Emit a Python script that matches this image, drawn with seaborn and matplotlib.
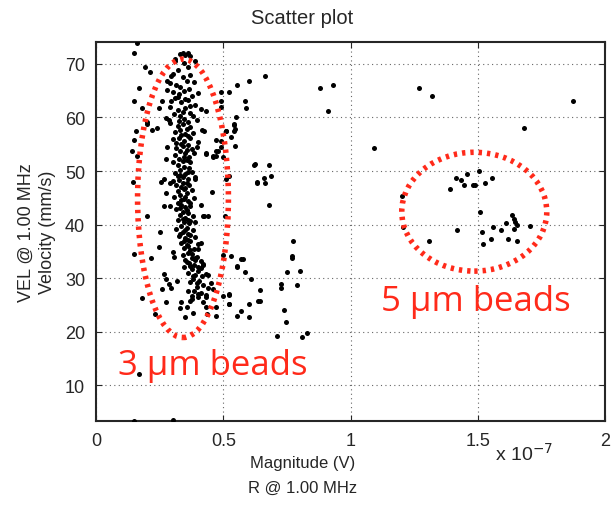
import pandas as pd
import matplotlib.pyplot as plt
import seaborn as sns
from matplotlib.patches import Ellipse

# Magnitude in units of 1e-7 V, velocity in mm/s
# dense column of the 3 um beads
col_x = [0.33, 0.35, 0.31, 0.345, 0.36, 0.32, 0.30, 0.34, 0.37, 0.355,
         0.29, 0.315, 0.33, 0.365, 0.385, 0.30, 0.325, 0.345, 0.375, 0.40, 0.28,
         0.31, 0.335, 0.36, 0.39, 0.29, 0.32, 0.35, 0.37, 0.41, 0.33, 0.305, 0.345, 0.38, 0.36, 0.395,
         0.29, 0.32, 0.34, 0.355, 0.37, 0.31, 0.335, 0.36, 0.38, 0.325, 0.345, 0.30,
         0.315, 0.34, 0.36, 0.375, 0.33, 0.35, 0.31, 0.365, 0.385, 0.325, 0.34, 0.355, 0.30,
         0.32, 0.345, 0.365, 0.33, 0.31, 0.35, 0.375, 0.34, 0.36, 0.325, 0.39, 0.30, 0.355,
         0.315, 0.335, 0.365, 0.345, 0.32, 0.355, 0.375, 0.33, 0.305, 0.345, 0.36, 0.385, 0.32,
         0.335, 0.35, 0.37, 0.315, 0.34, 0.36, 0.33, 0.35, 0.38, 0.32, 0.345, 0.365, 0.335,
         0.355, 0.315, 0.38, 0.34, 0.36, 0.325, 0.35, 0.39, 0.37, 0.335, 0.355, 0.40,
         0.345, 0.37, 0.385, 0.36, 0.34, 0.395, 0.375, 0.35, 0.41, 0.365, 0.385, 0.42, 0.345,
         0.375, 0.40, 0.36, 0.39, 0.415, 0.43, 0.38, 0.405, 0.37, 0.42, 0.395, 0.44,
         0.385, 0.41, 0.43, 0.40, 0.375, 0.42,
         0.34, 0.325, 0.37, 0.335, 0.355, 0.345, 0.33, 0.36, 0.34, 0.35,
         0.335, 0.355, 0.34, 0.37, 0.35, 0.36, 0.375, 0.39, 0.40, 0.38,
         0.395, 0.32, 0.35, 0.37, 0.33, 0.35, 0.315, 0.37, 0.32, 0.35,
         0.37, 0.33, 0.36, 0.33, 0.37, 0.345, 0.36, 0.355, 0.37, 0.41]
col_y = [71.8, 71.7, 70.6, 70.2, 69.4, 68.9, 68.1, 67.6, 67.9, 66.9,
         66.4, 66.1, 65.7, 65.4, 66.6, 64.8, 64.3, 64.9, 64.0, 64.6, 65.2,
         63.6, 62.9, 63.2, 62.4, 61.9, 61.4, 61.8, 60.9, 61.6, 60.3, 60.6, 59.8, 60.2, 59.2, 59.6,
         58.9, 58.4, 58.7, 57.9, 58.2, 57.3, 56.8, 56.5, 57.1, 56.1, 55.7, 55.9,
         55.2, 54.6, 54.9, 54.1, 53.8, 53.3, 53.0, 52.7, 53.4, 52.3, 51.9, 52.1, 51.6,
         51.2, 50.8, 50.5, 50.1, 49.7, 49.4, 49.9, 48.9, 48.6, 48.3, 48.8, 48.1, 47.8,
         47.4, 47.1, 47.3, 46.6, 46.2, 45.9, 46.4, 45.5, 45.1, 44.8, 44.4, 44.9, 44.1,
         43.6, 43.2, 43.5, 42.9, 42.4, 42.1, 41.7, 41.3, 41.6, 40.9, 40.5, 40.2, 39.8,
         39.4, 39.1, 39.0, 38.6, 38.2, 37.8, 37.4, 37.7, 36.9, 36.5, 36.1, 36.4,
         35.6, 35.2, 35.5, 34.7, 34.3, 34.0, 33.8, 33.4, 33.1, 32.8, 32.4, 32.7, 32.1,
         31.7, 31.4, 31.0, 30.6, 30.3, 30.8, 29.9, 29.5, 29.2, 28.8, 28.4, 28.1,
         27.6, 27.2, 26.9, 26.4, 26.0, 25.6,
         61.1, 59.4, 56.2, 55.0, 53.9, 52.6, 49.2, 49.9, 47.7, 46.9,
         44.5, 42.8, 41.0, 40.6, 38.9, 37.1, 34.5, 33.4, 32.0, 30.3,
         29.1, 63.9, 63.5, 62.1, 57.6, 57.0, 54.3, 51.6, 49.0, 45.2,
         44.0, 43.0, 40.9, 38.3, 38.0, 37.0, 35.9, 33.0, 32.2, 31.9]

# scattered points around the 3 um cluster
spread_x = [0.16, 0.15, 0.31, 0.34, 0.36, 0.19, 0.21, 0.17, 0.15, 0.18, 0.20, 0.155,
            0.15, 0.14, 0.16, 0.145, 0.49, 0.52, 0.555, 0.60, 0.585, 0.59, 0.49, 0.49,
            0.55, 0.54, 0.545, 0.51, 0.53, 0.545, 0.49, 0.49, 0.47, 0.625, 0.63, 0.455,
            0.665, 0.88, 0.93, 0.91, 0.54, 0.54, 0.51, 0.47, 0.43, 0.46, 0.47, 0.50,
            0.62, 0.68, 0.52, 0.66, 0.665, 0.685, 0.63, 0.68, 0.41, 0.42, 0.44, 0.505,
            0.775, 0.77, 0.77, 0.75, 0.80, 0.79, 0.725, 0.725, 0.645, 0.635, 0.645, 0.60,
            0.61, 0.585, 0.57, 0.578, 0.555, 0.53, 0.50, 0.52, 0.52, 0.57, 0.555, 0.60,
            0.74, 0.745, 0.71, 0.81, 0.83, 0.295, 0.28, 0.26, 0.245, 0.295, 0.43, 0.20,
            0.22, 0.24, 0.275, 0.287, 0.28, 0.275, 0.43, 0.46, 0.48, 0.40, 0.395, 0.415,
            0.425, 0.255, 0.267, 0.29, 0.39, 0.51, 0.275, 0.265, 0.29, 0.20, 0.425, 0.25,
            0.245, 0.215, 0.148, 0.30, 0.305, 0.39, 0.18, 0.23, 0.275, 0.333, 0.357, 0.37,
            0.376, 0.40, 0.43, 0.434, 0.47, 0.47, 0.50, 0.52, 0.523, 0.555, 0.26, 0.295,
            0.267, 0.275, 0.287, 0.318, 0.17, 0.15, 0.30, 0.33, 0.38, 0.35, 0.36, 0.44,
            0.45, 0.42, 0.40, 0.41, 0.39, 0.46, 0.43, 0.37, 0.39]
spread_y = [73.9, 72.0, 71.0, 72.0, 72.0, 69.4, 68.5, 65.5, 63.0, 61.8, 58.8, 57.5,
            55.8, 53.7, 52.8, 48.0, 64.8, 64.8, 66.0, 66.8, 63.0, 61.8, 63.0, 62.0,
            60.0, 58.8, 57.8, 57.5, 56.4, 54.7, 55.6, 54.5, 52.8, 51.3, 48.0, 46.0,
            67.8, 65.5, 66.0, 61.2, 58.6, 57.5, 57.5, 55.8, 53.2, 52.6, 53.7, 52.6,
            51.1, 51.1, 49.0, 48.7, 47.8, 49.0, 47.8, 43.6, 43.6, 41.6, 41.6, 41.6,
            36.9, 34.1, 33.7, 31.1, 31.3, 28.7, 28.9, 28.1, 27.8, 25.7, 25.7, 25.1,
            29.8, 31.1, 33.6, 33.6, 32.2, 34.1, 34.3, 27.0, 25.1, 23.8, 23.0, 22.7,
            24.0, 21.8, 19.2, 19.0, 19.7, 67.8, 66.8, 63.0, 61.8, 63.0, 61.2, 59.1,
            57.7, 58.0, 59.9, 59.5, 54.5, 52.2, 53.3, 52.8, 53.7, 55.4, 54.5, 57.7,
            57.5, 48.0, 48.5, 47.8, 48.5, 48.5, 45.9, 43.5, 43.5, 41.6, 41.6, 38.6,
            35.8, 33.7, 34.5, 34.9, 33.9, 40.5, 26.3, 23.3, 25.5, 25.5, 24.6, 25.7,
            26.6, 27.0, 24.6, 23.3, 24.6, 22.9, 26.6, 26.8, 25.1, 32.0, 28.0, 28.1,
            30.7, 29.8, 28.9, 29.4, 12.1, 3.3, 3.5, 24.5, 23.5, 22.8, 27.5, 30.5,
            29.0, 32.5, 35.5, 36.5, 33.8, 28.0, 26.5, 71.5, 70.5]

# 5 um beads and outliers on the right
right_x = [1.27, 1.32, 1.875, 1.09, 1.68, 1.20, 1.205, 1.31, 1.39, 1.415, 1.435, 1.445,
           1.457, 1.48, 1.49, 1.505, 1.53, 1.555, 1.51, 1.42, 1.515, 1.52, 1.55, 1.56,
           1.59, 1.61, 1.635, 1.643, 1.647, 1.655, 1.643, 1.62, 1.655, 1.705]
right_y = [65.5, 64.0, 63.0, 54.3, 58.0, 45.3, 39.5, 36.9, 46.6, 48.7, 48.3, 47.4,
           49.4, 47.4, 47.4, 50.0, 47.8, 48.7, 42.3, 39.0, 38.6, 36.4, 37.3, 39.5,
           39.0, 40.3, 41.8, 41.0, 40.5, 39.9, 39.2, 37.3, 36.9, 39.7]

df = pd.DataFrame({"mag": col_x + spread_x + right_x,
                   "vel": col_y + spread_y + right_y})

sns.set_style("ticks")
plt.rcParams['font.family'] = ['Liberation Sans', 'DejaVu Sans']

fig = plt.figure(figsize=(6.13, 5.06), dpi=100)
ax = fig.add_axes([0.157, 0.166, 0.83, 0.749])

sns.scatterplot(data=df, x="mag", y="vel", ax=ax, color="black", s=13,
                linewidth=0, zorder=3)

red = "#ff2a1a"
ax.add_patch(Ellipse((0.341, 44.9), 0.357, 52.0, fill=False, ec=red, lw=4,
                     ls=(0, (0.6, 0.9)), zorder=4))
ax.add_patch(Ellipse((1.486, 42.4), 0.57, 22.2, fill=False, ec=red, lw=4,
                     ls=(0, (0.6, 0.9)), zorder=4))
ax.text(0.085, 12.1, "3 µm beads", color=red, fontsize=25,
        family=['Open Sans', 'DejaVu Sans'], zorder=5)
ax.text(1.12, 24.0, "5 µm beads", color=red, fontsize=25,
        family=['Open Sans', 'DejaVu Sans'], zorder=5)

ax.set_xlim(0, 2)
ax.set_ylim(3.3, 74.1)
ax.set_xticks([0, 0.5, 1, 1.5, 2])
ax.set_xticklabels(["0", "0.5", "1", "1.5", "2"])
ax.set_yticks([10, 20, 30, 40, 50, 60, 70])
ax.grid(True, ls=(0, (1, 3)), color="#666666", lw=0.8)
ax.tick_params(direction="in", top=True, right=True, labelsize=13, length=4, pad=8)
for sp in ax.spines.values():
    sp.set_linewidth(1.5)
    sp.set_visible(True)

# title and labels sit centred on the figure, not on the axes
ax.set_title("Scatter plot", fontsize=14.5, x=0.405, pad=14)
ax.set_xlabel("Magnitude (V)\nR @ 1.00 MHz", fontsize=12, linespacing=1.8)
ax.xaxis.set_label_coords(0.405, -0.09)
ax.set_ylabel("VEL @ 1.00 MHz\nVelocity (mm/s)", fontsize=13, linespacing=1.3)
ax.yaxis.set_label_coords(-0.08, 0.5)
ax.text(0.84, -0.055, r"x 10$^{-7}$", transform=ax.transAxes, fontsize=14,
        ha="center", va="top")

fig.savefig("out.png", dpi=100)
